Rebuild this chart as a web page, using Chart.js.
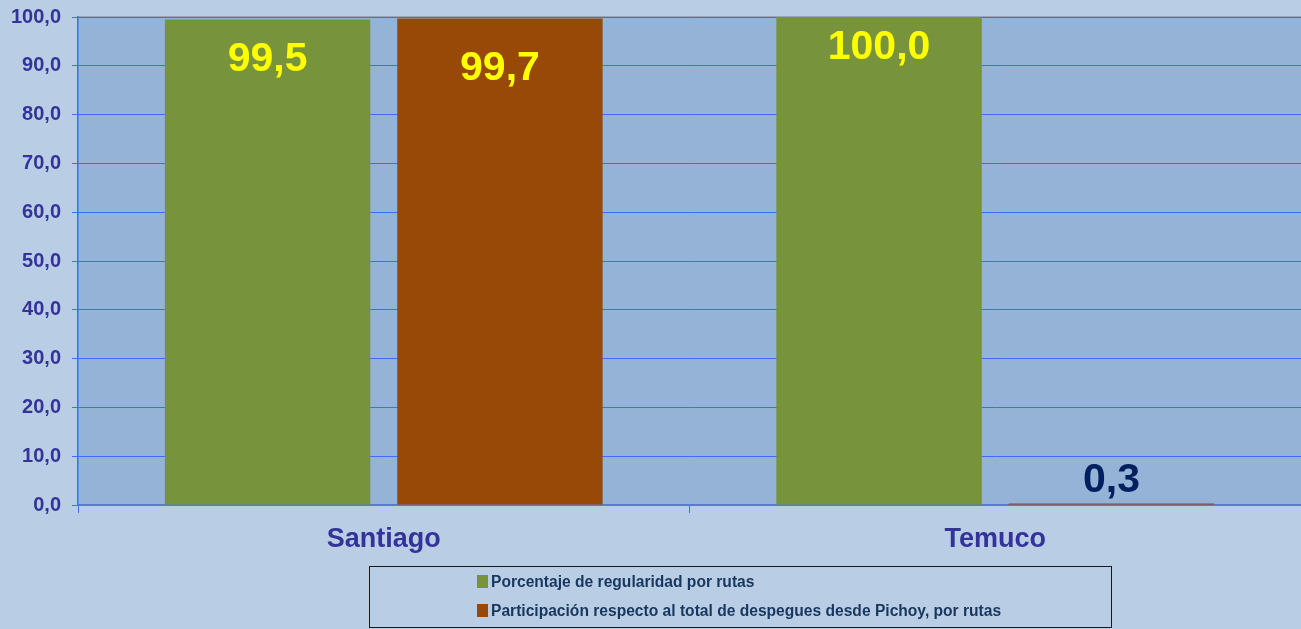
<html lang="es">
<head>
<meta charset="utf-8" />
<title>Regularidad por rutas</title>
<script src="https://cdn.jsdelivr.net/npm/chart.js@4.4.1/dist/chart.umd.min.js"></script>
<style>
  * { margin: 0; padding: 0; box-sizing: border-box; }
  body { width: 1301px; height: 629px; background: #b9cde5; overflow: hidden; font-family: "Liberation Sans", Arial, sans-serif; }
  .wrap { position: relative; width: 1301px; height: 629px; }
  #legend {
    position: absolute; left: 369px; top: 566px; width: 743px; height: 62px;
    border: 1px solid #1a1a1a; padding: 6px 0 0 107px;
  }
  #legend div { font-size: 15.6px; font-weight: bold; color: #17375e; height: 29px; line-height: 18px; white-space: nowrap; }
  #legend span { display: inline-block; width: 11px; height: 13px; margin-right: 3px; vertical-align: -1px; }
</style>
</head>
<body>
<div class="wrap">
  <canvas id="chart" width="1301" height="629"></canvas>
  <div id="legend"></div>
</div>
<script>
// categories and series
const routes = ["Santiago", "Temuco"];
const regularidad = [99.5, 100.0];
const participacion = [99.7, 0.3];
const seriesNames = [
  "Porcentaje de regularidad por rutas",
  "Participación respecto al total de despegues desde Pichoy, por rutas"
];
const yTicks = [0, 10, 20, 30, 40, 50, 60, 70, 80, 90, 100];

const fmt = v => v.toFixed(1).replace(".", ",");

// plot area background + top border
const plotBg = {
  id: "plotBg",
  beforeDraw(chart) {
    const { ctx, chartArea: a } = chart;
    ctx.save();
    ctx.fillStyle = "#95b3d7";
    ctx.fillRect(a.left, a.top, a.right - a.left, a.bottom - a.top);
    ctx.strokeStyle = "#8a98a8";
    ctx.lineWidth = 1.5;
    ctx.beginPath();
    ctx.moveTo(a.left, a.top);
    ctx.lineTo(a.right, a.top);
    ctx.stroke();
    ctx.restore();
  }
};

// value labels, Excel "inside end" style
const valueLabels = {
  id: "valueLabels",
  afterDatasetsDraw(chart) {
    const { ctx } = chart;
    const offsets = [[40, 31], [50, -23]];
    ctx.save();
    ctx.font = "bold 41px 'Liberation Sans', Arial, sans-serif";
    ctx.textAlign = "center";
    ctx.textBaseline = "middle";
    chart.data.datasets.forEach((ds, i) => {
      chart.getDatasetMeta(i).data.forEach((bar, j) => {
        const off = offsets[i][j];
        ctx.fillStyle = off < 0 ? "#002060" : "#ffff00";
        ctx.fillText(fmt(ds.data[j]), bar.x, bar.y + off);
      });
    });
    ctx.restore();
  }
};

const chart = new Chart(document.getElementById("chart"), {
  type: "bar",
  data: {
    labels: routes,
    datasets: [
      { label: seriesNames[0], data: regularidad, backgroundColor: "#77933c" },
      { label: seriesNames[1], data: participacion, backgroundColor: "#984807" }
    ]
  },
  options: {
    responsive: false,
    animation: false,
    categoryPercentage: 0.76,
    barPercentage: 0.884,
    layout: { padding: { top: 17, right: 0, left: 0, bottom: 0 } },
    plugins: { legend: { display: false }, tooltip: { enabled: false } },
    scales: {
      x: {
        grid: { drawOnChartArea: false, drawTicks: true, tickLength: 8, color: "#3d6cff" },
        border: { color: "#5a78d8", width: 2 },
        ticks: { color: "#333399", padding: 10, font: { size: 27, weight: "bold", family: "'Liberation Sans', Arial" } },
        afterFit(s) { s.height = 124; }
      },
      y: {
        min: 0,
        max: 100,
        afterBuildTicks(s) { s.ticks = yTicks.map(v => ({ value: v })); },
        grid: { color: "#3d6cff", lineWidth: 1, tickLength: 6 },
        border: { color: "#3d6cff", width: 1.5 },
        ticks: {
          color: "#333399",
          padding: 11,
          callback: v => fmt(v),
          font: { size: 20, weight: "bold", family: "'Liberation Sans', Arial" }
        },
        afterFit(s) {
          s.width = 78;
          s.paddingTop = 0;
          s.paddingBottom = 0;
        }
      }
    }
  },
  plugins: [plotBg, valueLabels]
});

// legend built from the datasets
const legend = document.getElementById("legend");
chart.data.datasets.forEach(ds => {
  const row = document.createElement("div");
  row.innerHTML = '<span style="background:' + ds.backgroundColor + '"></span>' + ds.label;
  legend.appendChild(row);
});
</script>
</body>
</html>
